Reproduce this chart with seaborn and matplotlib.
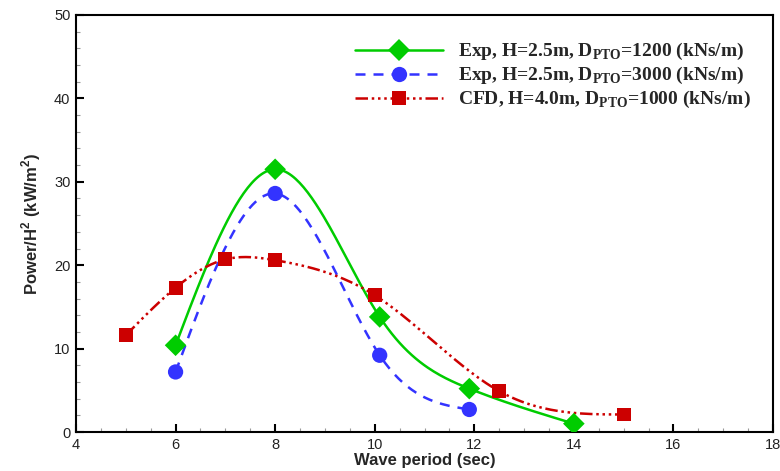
import numpy as np
import pandas as pd
import matplotlib
matplotlib.use("Agg")
import matplotlib.pyplot as plt
import seaborn as sns
from matplotlib.ticker import MultipleLocator

# ---------------------------
# Data
# ---------------------------
exp1200_period = [6.0, 8.0, 10.1, 11.9, 14.0]
exp1200_power = [10.4, 31.5, 13.8, 5.2, 1.0]

exp3000_period = [6.0, 8.0, 10.1, 11.9]
exp3000_power = [7.2, 28.6, 9.2, 2.7]

cfd1000_period = [5.0, 6.0, 7.0, 8.0, 10.0, 12.5, 15.0]
cfd1000_power = [11.6, 17.3, 20.7, 20.6, 16.4, 4.9, 2.1]

labels = [
    r"Exp, H=2.5m, D$_{\mathregular{PTO}}$=1200 (kNs/m)",
    r"Exp, H=2.5m, D$_{\mathregular{PTO}}$=3000 (kNs/m)",
    r"CFD, H=4.0m, D$_{\mathregular{PTO}}$=1000 (kNs/m)",
]


# natural cubic spline through the points (no scipy available)
def spline(x, y, n=200):
    x = np.asarray(x, float)
    y = np.asarray(y, float)
    k = len(x)
    h = np.diff(x)
    A = np.zeros((k, k))
    b = np.zeros(k)
    A[0, 0] = A[-1, -1] = 1.0
    for i in range(1, k - 1):
        A[i, i - 1] = h[i - 1]
        A[i, i] = 2 * (h[i - 1] + h[i])
        A[i, i + 1] = h[i]
        b[i] = 6 * ((y[i + 1] - y[i]) / h[i] - (y[i] - y[i - 1]) / h[i - 1])
    m = np.linalg.solve(A, b)
    xs = np.linspace(x[0], x[-1], n)
    idx = np.clip(np.searchsorted(x, xs) - 1, 0, k - 2)
    t0 = xs - x[idx]
    t1 = x[idx + 1] - xs
    hi = h[idx]
    ys = (m[idx] * t1 ** 3 + m[idx + 1] * t0 ** 3) / (6 * hi) \
        + (y[idx] / hi - m[idx] * hi / 6) * t1 \
        + (y[idx + 1] / hi - m[idx + 1] * hi / 6) * t0
    return xs, ys


sns.set_style("ticks")
plt.rcParams["font.family"] = ["Liberation Sans", "DejaVu Sans"]

fig = plt.figure(figsize=(7.8, 4.71), dpi=100)
ax = fig.add_axes([76 / 780, 1 - 432 / 471, (773 - 76) / 780, (432 - 15) / 471])

series = [
    (exp1200_period, exp1200_power, "#00cc00", "-", "D", 11),
    (exp3000_period, exp3000_power, "#3333ff", (0, (4, 3.2)), "o", 11),
    (cfd1000_period, cfd1000_power, "#cc0000", (0, (5, 1.5, 1, 1.5, 1, 1.5, 1, 1.5)), "s", 10),
]

for (px, py, col, ls, mk, ms), lab in zip(series, labels):
    xs, ys = spline(px, py)
    curve = pd.DataFrame({"period": xs, "power": ys})
    pts = pd.DataFrame({"period": px, "power": py})
    sns.lineplot(data=curve, x="period", y="power", ax=ax, color=col,
                 linewidth=1.8, linestyle=ls, label="_nolegend_")
    ax.lines[-1].set_linestyle(ls)
    sns.scatterplot(data=pts, x="period", y="power", ax=ax, color=col,
                    marker=mk, s=ms ** 2, edgecolor="none", zorder=5)
    # legend proxy
    ax.plot([], [], color=col, linestyle=ls, linewidth=1.8, marker=mk,
            markersize=ms, markeredgewidth=0, label=lab)

ax.set_xlim(4, 18)
ax.set_ylim(0, 50)
ax.xaxis.set_major_locator(MultipleLocator(2))
ax.xaxis.set_minor_locator(MultipleLocator(0.5))
ax.yaxis.set_major_locator(MultipleLocator(10))
ax.yaxis.set_minor_locator(MultipleLocator(2))
ax.tick_params(which="major", direction="in", length=6, width=1.5,
               labelsize=10.5, colors="black", labelcolor="#222222", pad=4)
ax.tick_params(which="minor", direction="in", length=3, width=0.8,
               color="#999999")
for sp in ax.spines.values():
    sp.set_linewidth(1.5)
    sp.set_color("black")

ax.set_xlabel("Wave period (sec)", fontsize=12, fontweight="bold", labelpad=1)
ax.set_ylabel(r"Power/H$^{\mathregular{2}}$ (kW/m$^{\mathregular{2}}$)",
              fontsize=12, fontweight="bold", labelpad=8)

handles, labs = ax.get_legend_handles_labels()
keep = [(h, l) for h, l in zip(handles, labs) if l in labels]
leg = ax.legend([h for h, _ in keep], [l for _, l in keep], loc="upper right",
                bbox_to_anchor=(0.985, 0.965), frameon=False, handlelength=4.5,
                handletextpad=0.8, labelspacing=0.15, borderaxespad=0.2,
                prop={"family": "Liberation Serif", "weight": "bold", "size": 14})

fig.savefig("out.png", dpi=100)
